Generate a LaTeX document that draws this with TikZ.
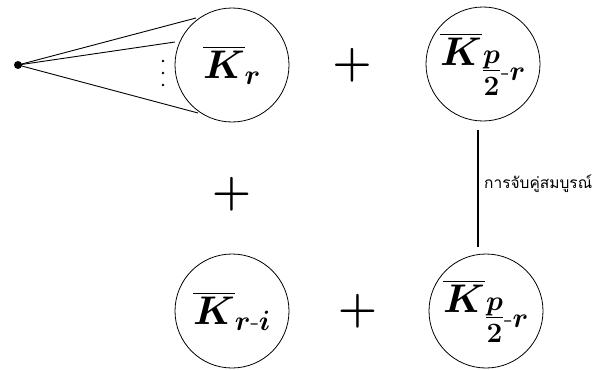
\RequirePackage{fix-cm}
\documentclass[tikz,border=0pt]{standalone}
\usepackage{amsmath}
\usepackage{fontspec}
\newfontfamily\thaifont[Script=Thai]{Loma}
\newcommand{\halfp}{\genfrac{}{}{}{1}{p}{2}}
\begin{document}
\begin{tikzpicture}[x=1pt,y=-1pt,
  gnode/.style={circle,draw,line width=0.8pt,minimum size=114pt,inner sep=0pt,font=\fontsize{40}{44}\selectfont\boldmath},
  plusop/.style={inner sep=0pt,font=\fontsize{45}{50}\selectfont\boldmath},
  dotmark/.style={circle,fill,inner sep=0pt,minimum size=2.6pt},
  link/.style={line width=0.9pt}]
\useasboundingbox (0,0) rectangle (596,369);
\node[gnode] (kr) at (232,65) {$\overline{K}_{r}$};
\node[gnode] (kp1) at (483,64) {$\overline{K}_{\halfp\text{-}r}$};
\node[gnode] (kri) at (232,311) {$\overline{K}_{r\text{-}i}$};
\node[gnode] (kp2) at (486,311) {$\overline{K}_{\halfp\text{-}r}$};
\node[plusop] (p1) at (352,65) {$+$};
\node[plusop] (p2) at (231.5,194.5) {$+$};
\node[plusop] (p3) at (357.5,311.5) {$+$};
\node[circle,fill,inner sep=0pt,minimum size=8pt] (v) at (18,65) {};
\coordinate (e1) at (196,18);
\coordinate (e2) at (175,42);
\coordinate (e3) at (198,113);
\draw[link] (v.center) -- (e1);
\draw[link] (v.center) -- (e2);
\draw[link] (v.center) -- (e3);
\node[dotmark] (d1) at (163,61) {};
\node[dotmark] (d2) at (163,73) {};
\node[dotmark] (d3) at (163,85) {};
\coordinate (m1) at (478,130);
\coordinate (m2) at (478,247);
\draw[link,line width=1.4pt] (m1) -- (m2);
\node[anchor=west,inner sep=0pt,font=\thaifont\fontsize{15.5}{18}\selectfont] (lab) at (484,184) {การจับคู่สมบูรณ์};
\end{tikzpicture}
\end{document}
